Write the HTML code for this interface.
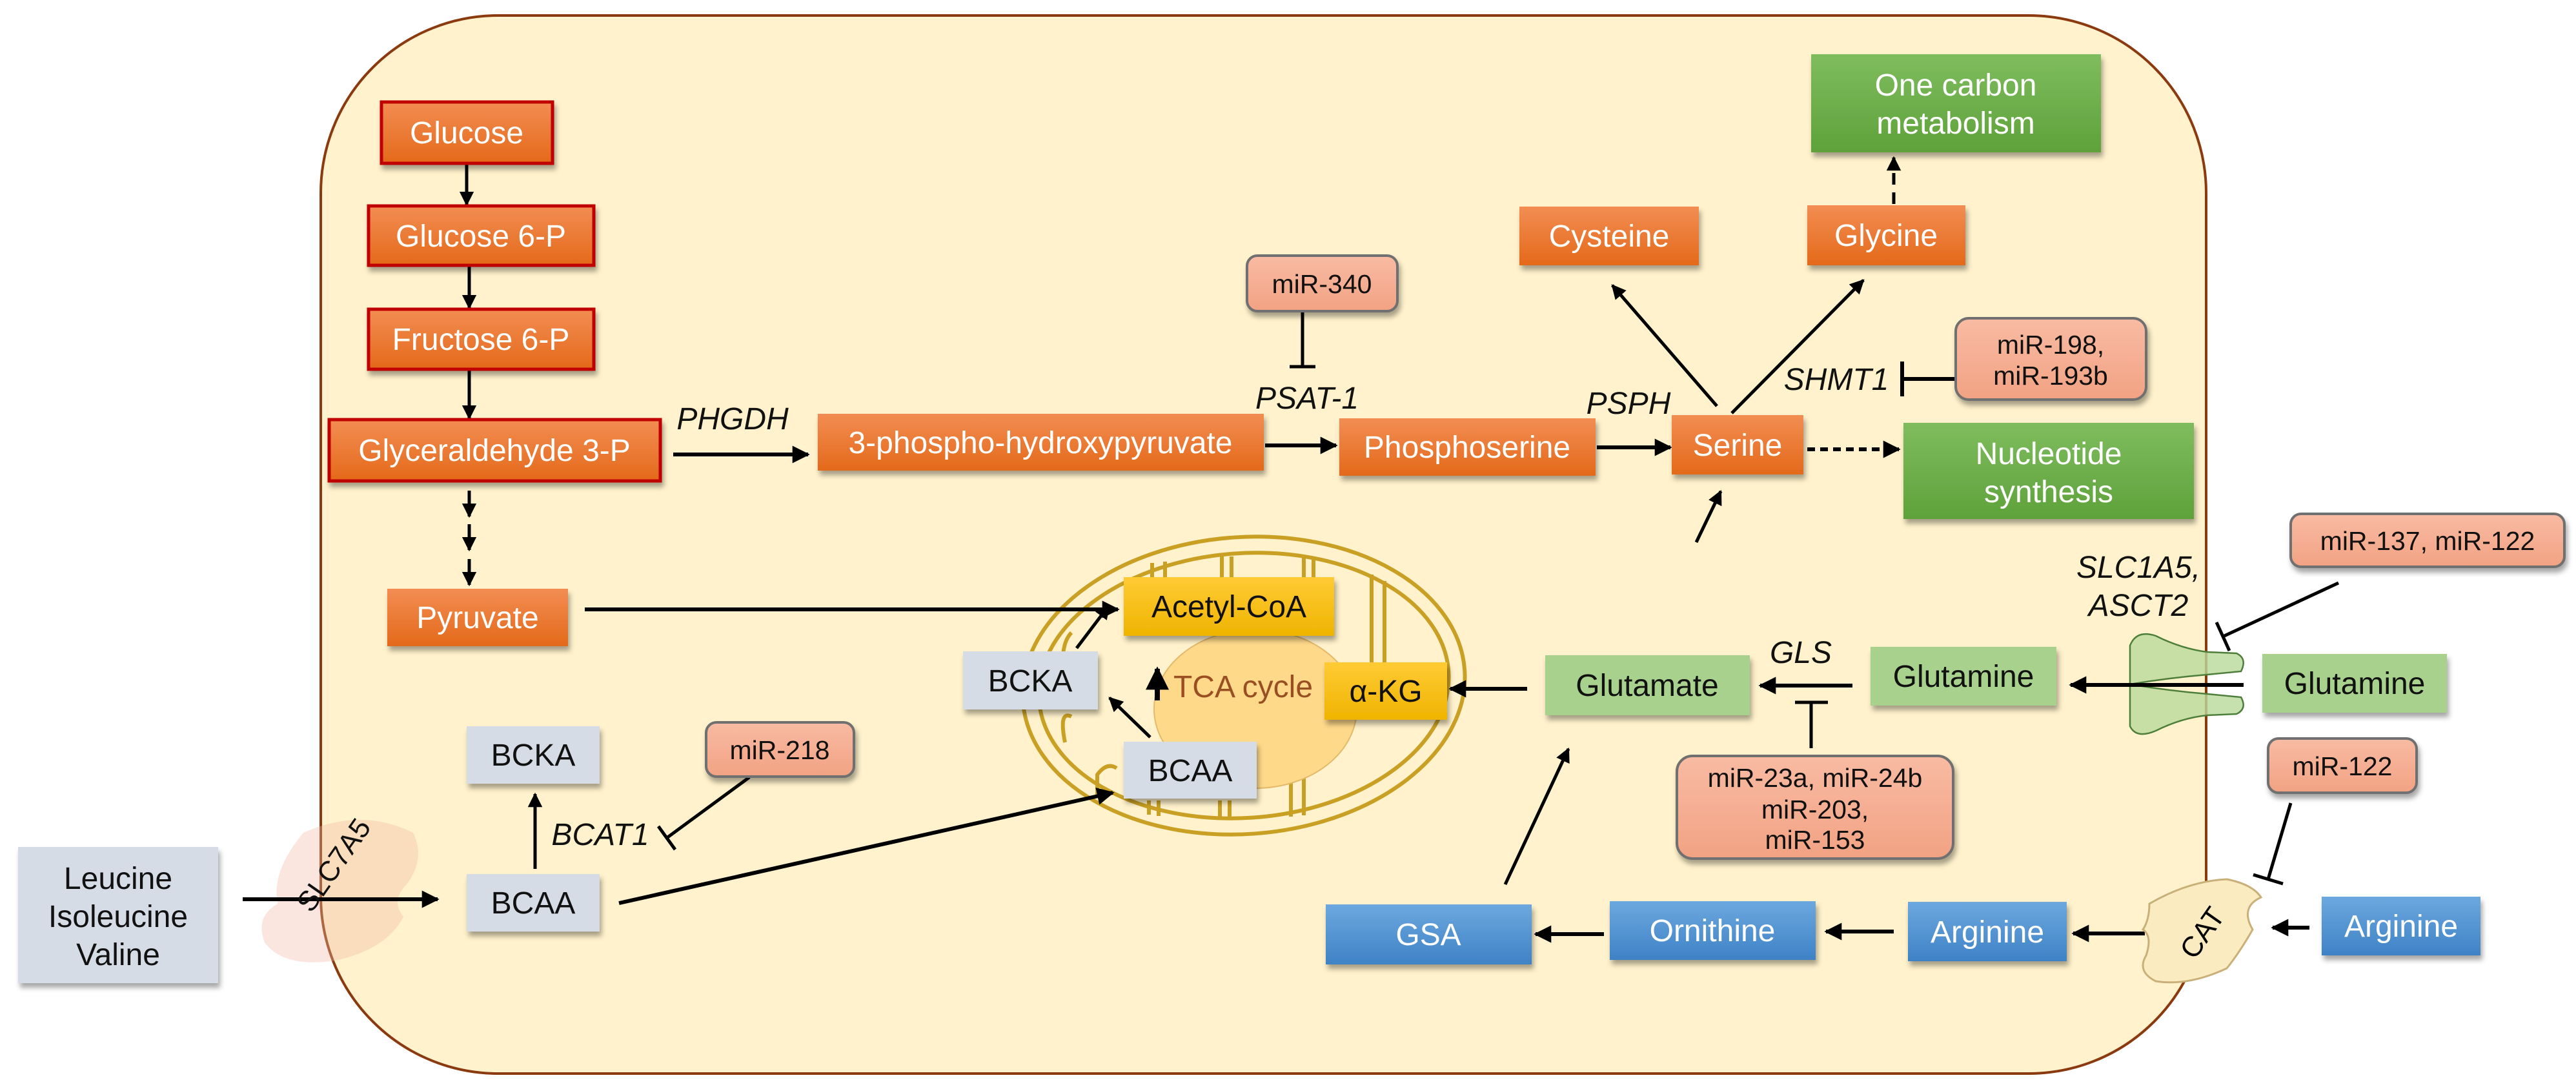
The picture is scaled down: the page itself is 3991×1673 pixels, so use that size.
<!DOCTYPE html>
<html><head><meta charset="utf-8"><style>
html,body{margin:0;padding:0;background:#fff;}
svg{display:block;}
text{font-family:"Liberation Sans",Arial,sans-serif;}
</style></head><body>
<svg width="3991" height="1673" viewBox="0 0 3991 1673" xmlns="http://www.w3.org/2000/svg">
<defs>
<linearGradient id="go" x1="0" y1="0" x2="0" y2="1"><stop offset="0" stop-color="#F28D52"/><stop offset="1" stop-color="#E4691A"/></linearGradient>
<linearGradient id="gg" x1="0" y1="0" x2="0" y2="1"><stop offset="0" stop-color="#7FBC5E"/><stop offset="1" stop-color="#5EA23A"/></linearGradient>
<linearGradient id="gb" x1="0" y1="0" x2="0" y2="1"><stop offset="0" stop-color="#6DA8DF"/><stop offset="1" stop-color="#3E82C6"/></linearGradient>
<linearGradient id="gy" x1="0" y1="0" x2="0" y2="1"><stop offset="0" stop-color="#FFCB35"/><stop offset="1" stop-color="#EFB400"/></linearGradient>
<linearGradient id="gs" x1="0" y1="0" x2="0" y2="1"><stop offset="0" stop-color="#F8BBA3"/><stop offset="1" stop-color="#F2A283"/></linearGradient>
<filter id="sh" x="-10%" y="-10%" width="130%" height="140%"><feDropShadow dx="3" dy="7" stdDeviation="4" flood-color="#000" flood-opacity="0.35"/></filter>
<marker id="ar" viewBox="0 0 10 10" refX="9" refY="5" markerWidth="4.5" markerHeight="4.5" orient="auto" markerUnits="strokeWidth"><path d="M0,0 L10,5 L0,10 z" fill="#000"/></marker>
</defs>

<!-- cell -->
<rect x="497" y="24" width="2921" height="1639" rx="275" ry="275" fill="#FFF2CC" stroke="#8B3A0F" stroke-width="4"/>

<!-- SLC7A5 blob -->
<path d="M470,1290 Q560,1250 640,1290 Q660,1330 630,1370 Q605,1395 625,1420 Q600,1470 520,1488 Q440,1500 410,1460 Q395,1420 430,1400 Q420,1350 470,1290 Z" fill="#F2B7A0" opacity="0.35"/>

<!-- mitochondrion -->
<g fill="none" stroke="#C9A023" stroke-width="6">
<ellipse cx="1927" cy="1062" rx="343" ry="230" transform="rotate(-4 1927 1062)"/>
<ellipse cx="1927" cy="1062" rx="318" ry="205" transform="rotate(-4 1927 1062)"/>
<path d="M1785,872 L1785,960 Q1795,975 1805,960 L1805,870"/>
<path d="M1893,862 L1893,900"/>
<path d="M1908,862 L1908,900"/>
<path d="M2020,862 L2020,895"/>
<path d="M2035,864 L2035,895"/>
<path d="M2125,890 L2125,1060 Q2135,1075 2145,1060 L2145,900"/>
<path d="M1700,1235 L1700,1200 Q1715,1180 1730,1190"/>
<path d="M1780,1262 L1780,1240"/>
<path d="M1795,1264 L1795,1240"/>
<path d="M1890,1270 L1890,1240"/>
<path d="M1905,1270 L1905,1240"/>
<path d="M2000,1265 L2000,1190 Q2010,1175 2020,1190 L2020,1263"/>
<path d="M1660,980 Q1640,1000 1650,1060"/>
<path d="M1650,1150 Q1640,1100 1660,1110"/>
</g>
<ellipse cx="1945" cy="1098" rx="157" ry="123" fill="#FFD98A" stroke="#E5B96A" stroke-width="2"/>

<!-- arrows/lines -->
<g stroke="#000" stroke-width="5" fill="none">
<line x1="723" y1="253" x2="723" y2="317" marker-end="url(#ar)"/>
<line x1="727" y1="411" x2="727" y2="477" marker-end="url(#ar)"/>
<line x1="727" y1="572" x2="727" y2="648" marker-end="url(#ar)"/>
<line x1="727" y1="760" x2="727" y2="800" marker-end="url(#ar)"/>
<line x1="727" y1="812" x2="727" y2="852" marker-end="url(#ar)"/>
<line x1="727" y1="866" x2="727" y2="906" marker-end="url(#ar)"/>
<line x1="1043" y1="704" x2="1252" y2="704" stroke-width="6" marker-end="url(#ar)"/>
<line x1="1960" y1="690" x2="2070" y2="690" stroke-width="6" marker-end="url(#ar)"/>
<line x1="2474" y1="693" x2="2588" y2="693" stroke-width="6" marker-end="url(#ar)"/>
<line x1="2800" y1="696" x2="2942" y2="696" stroke-width="6" stroke-dasharray="12,8" marker-end="url(#ar)"/>
<line x1="2934" y1="316" x2="2934" y2="244" stroke-dasharray="18,12" marker-end="url(#ar)"/>
<line x1="2660" y1="629" x2="2498" y2="442" marker-end="url(#ar)"/>
<line x1="2683" y1="640" x2="2887" y2="434" marker-end="url(#ar)"/>
<line x1="2628" y1="840" x2="2666" y2="761" marker-end="url(#ar)"/>
<line x1="906" y1="944" x2="1732" y2="944" stroke-width="6" marker-end="url(#ar)"/>
<line x1="1668" y1="1004" x2="1718" y2="938" marker-end="url(#ar)"/>
<line x1="1782" y1="1142" x2="1719" y2="1081" marker-end="url(#ar)"/>
<line x1="1793" y1="1085" x2="1793" y2="1036" stroke-width="8" marker-end="url(#ar)"/>
<line x1="829" y1="1346" x2="829" y2="1230" marker-end="url(#ar)"/>
<line x1="376" y1="1393" x2="678" y2="1393" stroke-width="6" marker-end="url(#ar)"/>
<line x1="959" y1="1399" x2="1724" y2="1228" stroke-width="6" marker-end="url(#ar)"/>
<line x1="2366" y1="1067" x2="2247" y2="1067" stroke-width="6" marker-end="url(#ar)"/>
<line x1="2870" y1="1062" x2="2727" y2="1062" stroke-width="6" marker-end="url(#ar)"/>
<line x1="2332" y1="1370" x2="2430" y2="1160" marker-end="url(#ar)"/>
<line x1="3578" y1="1437" x2="3521" y2="1437" stroke-width="6" marker-end="url(#ar)"/>
<line x1="3323" y1="1446" x2="3212" y2="1446" stroke-width="6" marker-end="url(#ar)"/>
<line x1="2934" y1="1443" x2="2829" y2="1443" stroke-width="6" marker-end="url(#ar)"/>
<line x1="2485" y1="1447" x2="2379" y2="1447" stroke-width="6" marker-end="url(#ar)"/>
<!-- inhibitions -->
<line x1="2018" y1="482" x2="2018" y2="568"/><line x1="1998" y1="568" x2="2038" y2="568"/>
<line x1="3030" y1="587" x2="2947" y2="587" stroke-width="6"/><line x1="2947" y1="560" x2="2947" y2="614" stroke-width="6"/>
<line x1="1161" y1="1204" x2="1033" y2="1298"/><line x1="1020" y1="1280" x2="1046" y2="1316"/>
<line x1="2806" y1="1159" x2="2806" y2="1088"/><line x1="2781" y1="1088" x2="2832" y2="1088"/>
<line x1="3623" y1="903" x2="3444" y2="986"/><line x1="3434" y1="964" x2="3454" y2="1008"/>
<line x1="3549" y1="1244" x2="3514" y2="1362"/><line x1="3491" y1="1355" x2="3537" y2="1369"/>
</g>

<!-- transporter SLC1A5 -->
<g stroke="#4E7F3A" stroke-width="2.5" fill="#B9D99A" fill-opacity="0.8">
<path d="M3300,1000 Q3310,975 3340,985 Q3380,1005 3420,1010 L3465,1012 Q3482,1020 3472,1040 L3420,1045 Q3360,1050 3300,1060 Z"/>
<path d="M3300,1125 Q3310,1145 3340,1132 Q3380,1112 3420,1108 L3465,1106 Q3482,1098 3472,1080 L3420,1075 Q3360,1070 3300,1060 Z"/>
</g>
<line x1="3476" y1="1061" x2="3208" y2="1061" stroke="#000" stroke-width="6" marker-end="url(#ar)"/>

<!-- CAT -->
<path d="M3330,1400 Q3390,1365 3450,1362 Q3490,1370 3503,1390 Q3470,1405 3490,1440 Q3470,1475 3450,1500 Q3390,1528 3340,1520 Q3310,1505 3325,1480 Q3335,1450 3320,1440 Q3330,1425 3330,1400 Z" fill="#FBEBC0" stroke="#C8B078" stroke-width="3"/>
<text x="3412" y="1460" font-size="44" text-anchor="middle" transform="rotate(-55 3412 1445)">CAT</text>

<!-- boxes -->
<g filter="url(#sh)">
<rect x="591" y="158" width="265" height="95" fill="url(#go)" stroke="#C00000" stroke-width="5"/>
<rect x="571" y="319" width="349" height="92" fill="url(#go)" stroke="#C00000" stroke-width="5"/>
<rect x="571" y="479" width="349" height="93" fill="url(#go)" stroke="#C00000" stroke-width="5"/>
<rect x="510" y="650" width="513" height="95" fill="url(#go)" stroke="#C00000" stroke-width="5"/>
<rect x="1267" y="641" width="691" height="88" fill="url(#go)"/>
<rect x="2075" y="648" width="397" height="89" fill="url(#go)"/>
<rect x="2590" y="643" width="204" height="92" fill="url(#go)"/>
<rect x="2354" y="320" width="278" height="91" fill="url(#go)"/>
<rect x="2800" y="318" width="245" height="93" fill="url(#go)"/>
<rect x="600" y="912" width="280" height="89" fill="url(#go)"/>
<rect x="2806" y="84" width="449" height="152" fill="url(#gg)"/>
<rect x="2949" y="655" width="450" height="149" fill="url(#gg)"/>
<rect x="2898" y="1002" width="288" height="91" fill="#A9D18E"/>
<rect x="3505" y="1013" width="286" height="91" fill="#A9D18E"/>
<rect x="2394" y="1015" width="317" height="93" fill="#A9D18E"/>
<rect x="2054" y="1401" width="319" height="93" fill="url(#gb)"/>
<rect x="2494" y="1396" width="319" height="91" fill="url(#gb)"/>
<rect x="2956" y="1397" width="246" height="92" fill="url(#gb)"/>
<rect x="3597" y="1389" width="246" height="91" fill="url(#gb)"/>
<rect x="28" y="1312" width="310" height="211" fill="#D6DCE6"/>
<rect x="723" y="1125" width="206" height="89" fill="#D6DCE6"/>
<rect x="723" y="1354" width="206" height="89" fill="#D6DCE6"/>
<rect x="1492" y="1009" width="209" height="90" fill="#D6DCE6"/>
<rect x="1741" y="1149" width="206" height="88" fill="#D6DCE6"/>
<rect x="1741" y="894" width="326" height="91" fill="url(#gy)"/>
<rect x="2052" y="1026" width="190" height="89" fill="url(#gy)"/>
<rect x="1932" y="396" width="233" height="86" rx="16" fill="url(#gs)" stroke="#6F6F6F" stroke-width="4"/>
<rect x="3030" y="493" width="295" height="126" rx="20" fill="url(#gs)" stroke="#6F6F6F" stroke-width="4"/>
<rect x="1094" y="1119" width="229" height="84" rx="16" fill="url(#gs)" stroke="#6F6F6F" stroke-width="4"/>
<rect x="2598" y="1171" width="428" height="159" rx="24" fill="url(#gs)" stroke="#6F6F6F" stroke-width="4"/>
<rect x="3549" y="796" width="424" height="82" rx="16" fill="url(#gs)" stroke="#6F6F6F" stroke-width="4"/>
<rect x="3514" y="1144" width="230" height="84" rx="16" fill="url(#gs)" stroke="#6F6F6F" stroke-width="4"/>
</g>

<!-- texts -->
<g font-size="48" text-anchor="middle" fill="#fff">
<text x="723" y="222">Glucose</text>
<text x="745" y="382">Glucose 6-P</text>
<text x="745" y="542">Fructose 6-P</text>
<text x="766" y="714">Glyceraldehyde 3-P</text>
<text x="1612" y="702">3-phospho-hydroxypyruvate</text>
<text x="2273" y="709">Phosphoserine</text>
<text x="2692" y="706">Serine</text>
<text x="2493" y="382">Cysteine</text>
<text x="2922" y="381">Glycine</text>
<text x="740" y="973">Pyruvate</text>
<text x="3030" y="148">One carbon</text>
<text x="3030" y="207">metabolism</text>
<text x="3174" y="719">Nucleotide</text>
<text x="3174" y="778">synthesis</text>
<text x="2213" y="1464">GSA</text>
<text x="2653" y="1458">Ornithine</text>
<text x="3079" y="1460">Arginine</text>
<text x="3720" y="1451">Arginine</text>
</g>
<g font-size="48" text-anchor="middle" fill="#111">
<text x="3042" y="1064">Glutamine</text>
<text x="3648" y="1075">Glutamine</text>
<text x="2552" y="1078">Glutamate</text>
<text x="183" y="1377">Leucine</text>
<text x="183" y="1436">Isoleucine</text>
<text x="183" y="1495">Valine</text>
<text x="826" y="1186">BCKA</text>
<text x="826" y="1415">BCAA</text>
<text x="1596" y="1071">BCKA</text>
<text x="1844" y="1210">BCAA</text>
<text x="1904" y="956">Acetyl-CoA</text>
<text x="2147" y="1087">α-KG</text>
</g>
<text x="1926" y="1080" font-size="48" text-anchor="middle" fill="#9A4F22">TCA cycle</text>
<g font-size="41" text-anchor="middle" fill="#111">
<text x="2048" y="454">miR-340</text>
<text x="3177" y="548">miR-198,</text>
<text x="3177" y="596">miR-193b</text>
<text x="1208" y="1176">miR-218</text>
<text x="2812" y="1219">miR-23a, miR-24b</text>
<text x="2812" y="1268">miR-203,</text>
<text x="2812" y="1315">miR-153</text>
<text x="3761" y="852">miR-137, miR-122</text>
<text x="3629" y="1201">miR-122</text>
</g>
<g font-size="48" font-style="italic" text-anchor="middle" fill="#111">
<text x="1135" y="665">PHGDH</text>
<text x="2025" y="633">PSAT-1</text>
<text x="2523" y="641">PSPH</text>
<text x="2845" y="604">SHMT1</text>
<text x="2790" y="1027">GLS</text>
<text x="930" y="1309">BCAT1</text>
<text x="3313" y="895">SLC1A5,</text>
<text x="3313" y="954">ASCT2</text>
</g>
<text x="517" y="1355" font-size="44" text-anchor="middle" fill="#111" transform="rotate(-55 517 1340)">SLC7A5</text>
</svg>
</body></html>
